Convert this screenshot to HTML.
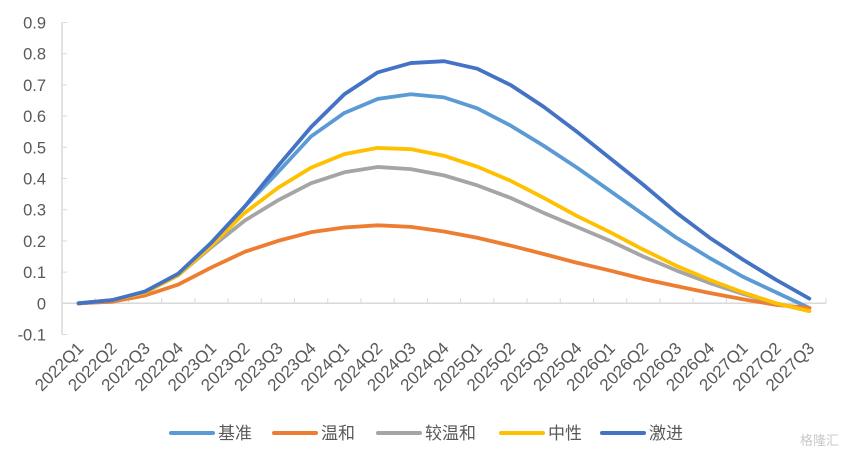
<!DOCTYPE html>
<html><head><meta charset="utf-8"><style>
body{margin:0;background:#fff;}
svg{display:block;font-family:"Liberation Sans","Noto Sans CJK SC",sans-serif;}
</style></head><body>
<svg id="chart" width="849" height="462" viewBox="0 0 849 462" xmlns="http://www.w3.org/2000/svg">
<g id="axes"></g><g id="series"></g><g id="legend"></g>
<text x="800" y="445" font-size="13" fill="#c8c8c8">格隆汇</text>
</svg>
<script>
const categories=["2022Q1","2022Q2","2022Q3","2022Q4","2023Q1","2023Q2","2023Q3","2023Q4","2024Q1","2024Q2","2024Q3","2024Q4","2025Q1","2025Q2","2025Q3","2025Q4","2026Q1","2026Q2","2026Q3","2026Q4","2027Q1","2027Q2","2027Q3"];
const yTicks=[-0.1,0,0.1,0.2,0.3,0.4,0.5,0.6,0.7,0.8,0.9];
const seriesNames=["基准","温和","较温和","中性","激进"];
const seriesColors=["#5B9BD5","#ED7D31","#A5A5A5","#FFC000","#4472C4"];
const baseline=[0,0.01,0.035,0.09,0.19,0.31,0.42,0.535,0.61,0.655,0.67,0.66,0.625,0.57,0.505,0.435,0.36,0.285,0.21,0.145,0.085,0.035,-0.015];
const mild=[0,0.005,0.025,0.06,0.115,0.165,0.2,0.228,0.243,0.25,0.245,0.23,0.21,0.185,0.158,0.13,0.105,0.078,0.055,0.033,0.013,-0.005,-0.015];
const moderate=[0,0.01,0.035,0.09,0.18,0.265,0.33,0.385,0.42,0.437,0.43,0.41,0.378,0.338,0.29,0.245,0.2,0.15,0.105,0.065,0.03,0.0,-0.025];
const neutral=[0,0.01,0.035,0.09,0.185,0.29,0.37,0.435,0.478,0.498,0.494,0.473,0.438,0.393,0.338,0.28,0.228,0.172,0.12,0.075,0.035,0.0,-0.025];
const aggressive=[0,0.01,0.038,0.095,0.195,0.31,0.44,0.565,0.67,0.74,0.77,0.776,0.752,0.7,0.63,0.55,0.465,0.38,0.29,0.21,0.14,0.075,0.015];
const allSeries=[baseline,mild,moderate,neutral,aggressive];
const NS="http://www.w3.org/2000/svg";
const x0=62,x1=826,yZero=303.3,per=312;
const step=(x1-x0)/categories.length;
function xs(i){return x0+step*(i+0.5);}
function ys(v){return yZero-v*per;}
function mk(t,a,p){const e=document.createElementNS(NS,t);for(const k in a)e.setAttribute(k,a[k]);p.appendChild(e);return e;}
const ax=document.getElementById('axes');
mk('line',{x1:x0,y1:ys(0.9),x2:x0,y2:ys(-0.1),stroke:'#d9d9d9','stroke-width':1.5},ax);
yTicks.forEach(v=>{
 mk('line',{x1:x0,y1:ys(v),x2:x0+5,y2:ys(v),stroke:'#d9d9d9','stroke-width':1},ax);
 const t=mk('text',{x:x0-16,y:ys(v)+6,'text-anchor':'end','font-size':16.5,fill:'#595959'},ax);
 t.textContent=String(v);
 
 
});
mk('line',{x1:x0,y1:yZero,x2:x1,y2:yZero,stroke:'#d9d9d9','stroke-width':1.5},ax);
for(let i=0;i<=categories.length;i++){mk('line',{x1:x0+step*i,y1:yZero,x2:x0+step*i,y2:yZero-5,stroke:'#d9d9d9','stroke-width':1},ax);}
categories.forEach((c,i)=>{
 const x=xs(i)+6,y=yZero+46;
 const t=mk('text',{x:x,y:y,'text-anchor':'end','font-size':17,fill:'#595959',transform:`rotate(-45 ${x} ${y})`},ax);
 t.textContent=c;
 
 
});
const sg=document.getElementById('series');
allSeries.forEach((s,k)=>{
 const p=mk('polyline',{points:s.map((v,i)=>xs(i)+','+ys(v)).join(' '),fill:'none',stroke:seriesColors[k],'stroke-width':3.8,'stroke-linejoin':'round','stroke-linecap':'round'},sg);
 
 
});
const lg=document.getElementById('legend');
const lx=[171,274,378,501,602];
seriesNames.forEach((n,k)=>{
 const g=mk('g',{},lg);
 
 
 mk('line',{x1:lx[k],y1:433,x2:lx[k]+42,y2:433,stroke:seriesColors[k],'stroke-width':4,'stroke-linecap':'round'},g);
 const t=mk('text',{x:lx[k]+47,y:439,'font-size':17,fill:'#595959'},g);
 t.textContent=n;
});
</script>
</body></html>
